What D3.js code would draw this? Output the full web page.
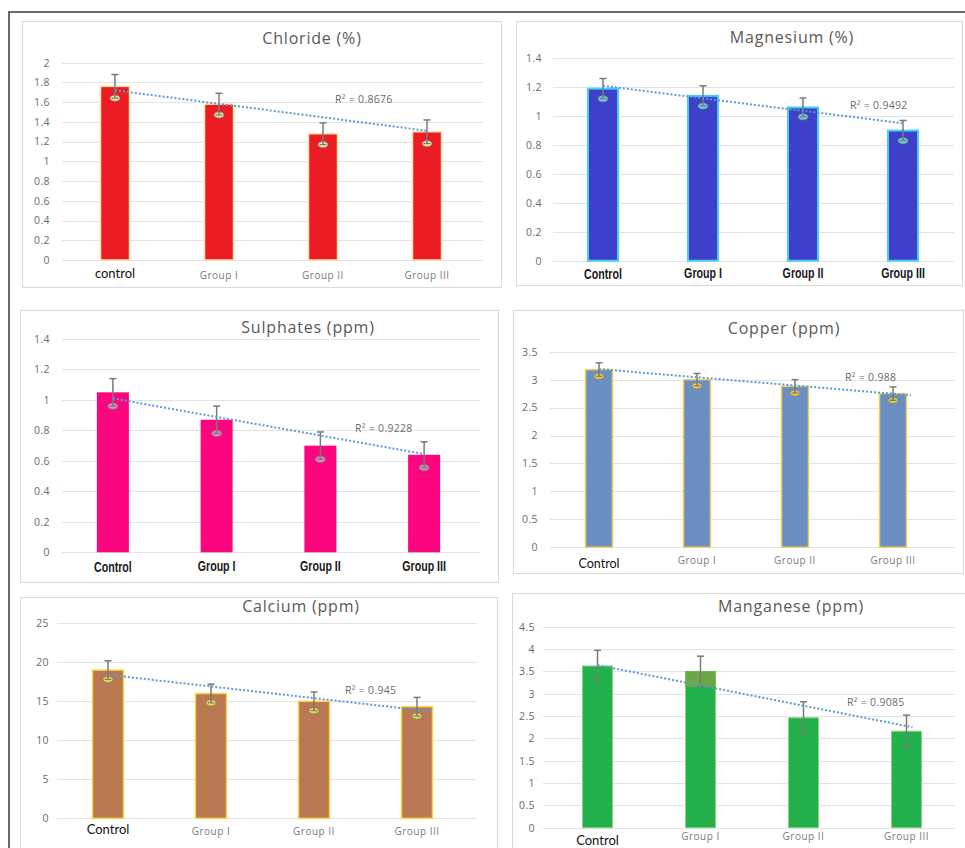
<!DOCTYPE html>
<html>
<head>
<meta charset="utf-8">
<script src="https://cdn.jsdelivr.net/npm/d3@7"></script>
<style>
body { margin: 0; background: #fff; }
svg { display: block; }
</style>
</head>
<body>
<div id="chart"></div>
<script>
// categories
const groups = ["Control", "Group I", "Group II", "Group III"];
const chlorideGroups = ["control", "Group I", "Group II", "Group III"];

// bar heights and error bar half-lengths
const chlorideMeans = [1.76, 1.58, 1.28, 1.30];
const chlorideErr = [0.12, 0.11, 0.11, 0.12];
const magnesiumMeans = [1.19, 1.14, 1.06, 0.90];
const magnesiumErr = [0.07, 0.07, 0.065, 0.07];
const sulphateMeans = [1.05, 0.87, 0.70, 0.64];
const sulphateErr = [0.09, 0.09, 0.09, 0.085];
const copperMeans = [3.18, 3.00, 2.88, 2.75];
const copperErr = [0.12, 0.11, 0.12, 0.12];
const calciumMeans = [19.0, 16.0, 15.0, 14.3];
const calciumErr = [1.2, 1.2, 1.2, 1.2];
const manganeseMeans = [3.62, 3.50, 2.46, 2.16];
const manganeseErr = [0.35, 0.34, 0.36, 0.36];

// trendline value at Control and at Group III
const chlorideTrend = [1.72, 1.31];
const magnesiumTrend = [1.21, 0.95];
const sulphateTrend = [1.01, 0.645];
const copperTrend = [3.19, 2.72];
const calciumTrend = [18.4, 13.7];
const manganeseTrend = [3.64, 2.25];

const titles = ["Chloride (%)", "Magnesium (%)", "Sulphates (ppm)", "Copper (ppm)", "Calcium (ppm)", "Manganese (ppm)"];
const r2Labels = ["R² = 0.8676", "R² = 0.9492", "R² = 0.9228", "R² = 0.988", "R² = 0.945", "R² = 0.9085"];
const yMaxes = [2, 1.4, 1.4, 3.5, 25, 4.5];
const tickSteps = [0.2, 0.2, 0.2, 0.5, 5, 0.5];

const W = 965, H = 848;

const svg = d3.select("#chart")
    .append("svg")
    .attr("width", W)
    .attr("height", H);

// outer frame of the figure
svg.append("path")
    .attr("d", "M9,848 L9,12 L965,12")
    .attr("fill", "none")
    .attr("stroke", "#3a3a3a")
    .attr("stroke-width", 1.5);

BarPanel = function(_svg, _cfg) {
    this.svg = _svg;
    this.cfg = _cfg;
    this.initVis();
};

BarPanel.prototype.initVis = function() {
    var vis = this;
    const c = vis.cfg;

    vis.g = vis.svg.append("g");

    // chart area box
    vis.g.append("rect")
        .attr("x", c.box[0] + 0.5)
        .attr("y", c.box[1] + 0.5)
        .attr("width", c.box[2] - c.box[0])
        .attr("height", c.box[3] - c.box[1])
        .attr("fill", "#fff")
        .attr("stroke", "#d9d9d9");

    vis.x = d3.scaleBand()
        .domain(d3.range(c.means.length))
        .range(c.xRange)
        .padding(0);

    vis.y = d3.scaleLinear()
        .domain([0, c.yMax])
        .range(c.yRange);

    const ticks = d3.range(0, c.yMax + c.step / 2, c.step).map(d => +d.toFixed(2));

    // gridlines
    vis.g.append("g")
        .selectAll("line")
        .data(ticks)
        .enter()
        .append("line")
        .attr("x1", c.gridX[0])
        .attr("x2", c.gridX[1])
        .attr("y1", d => Math.round(vis.y(d)) + 0.5)
        .attr("y2", d => Math.round(vis.y(d)) + 0.5)
        .attr("stroke", "#e3e3e3")
        .attr("stroke-width", 1);

    // y axis labels
    const yAxis = d3.axisLeft(vis.y)
        .tickValues(ticks)
        .tickSize(0)
        .tickPadding(0)
        .tickFormat(d => d3.format("~g")(d));

    vis.g.append("g")
        .attr("transform", `translate(${c.tickX},0)`)
        .call(yAxis)
        .call(g => g.select(".domain").remove())
        .selectAll("text")
        .attr("fill", "#6b6b6b")
        .attr("font-family", "'Open Sans', sans-serif")
        .attr("font-size", "10.5px")
        .attr("letter-spacing", "0.4px");

    const cx = i => vis.x(i) + vis.x.bandwidth() / 2;

    // bars
    vis.g.append("g")
        .selectAll("rect")
        .data(c.means)
        .enter()
        .append("rect")
        .attr("x", (d, i) => cx(i) - c.barW / 2)
        .attr("y", d => vis.y(d))
        .attr("width", c.barW)
        .attr("height", d => vis.y(0) - vis.y(d))
        .attr("fill", c.color)
        .attr("stroke", c.border)
        .attr("stroke-width", c.borderW);

    // darker band on top of a bar (manganese group I)
    if (c.band) {
        vis.g.append("rect")
            .attr("x", cx(c.band[0]) - c.barW / 2)
            .attr("y", vis.y(c.means[c.band[0]]))
            .attr("width", c.barW)
            .attr("height", vis.y(c.band[1]) - vis.y(c.means[c.band[0]]))
            .attr("fill", c.bandColor);
    }

    // error bars
    const err = vis.g.append("g");
    c.means.forEach((m, i) => {
        const top = vis.y(m + c.err[i]);
        const bot = vis.y(m - c.err[i]);
        if (c.markColor !== "none") {
            err.append("ellipse")
                .attr("cx", cx(i))
                .attr("cy", bot)
                .attr("rx", 5)
                .attr("ry", 3)
                .attr("fill", c.markColor)
                .attr("stroke", "#8a8a6a")
                .attr("stroke-width", 0.8);
        }
        err.append("line")
            .attr("x1", cx(i)).attr("x2", cx(i))
            .attr("y1", top).attr("y2", bot)
            .attr("stroke", "#7a7a7a")
            .attr("stroke-width", 1.5);
        err.append("line")
            .attr("x1", cx(i) - 3.5).attr("x2", cx(i) + 3.5)
            .attr("y1", top).attr("y2", top)
            .attr("stroke", "#7a7a7a")
            .attr("stroke-width", 1.5);
        err.append("line")
            .attr("x1", cx(i) - 3.5).attr("x2", cx(i) + 3.5)
            .attr("y1", bot).attr("y2", bot)
            .attr("stroke", "#7a7a7a")
            .attr("stroke-width", 1.2);
    });

    // linear trendline, dotted
    const last = c.means.length - 1;
    vis.g.append("line")
        .attr("x1", cx(0))
        .attr("x2", cx(last) + (c.trendExtra || 0))
        .attr("y1", vis.y(c.trend[0]))
        .attr("y2", vis.y(c.trend[1]))
        .attr("stroke", "#5b9bd5")
        .attr("stroke-width", 2)
        .attr("stroke-dasharray", "2,2");

    vis.g.append("text")
        .attr("x", c.r2Pos[0])
        .attr("y", c.r2Pos[1])
        .attr("fill", "#6b6b6b")
        .attr("font-family", "'Open Sans', sans-serif")
        .attr("font-size", "10.5px")
        .attr("letter-spacing", "0.3px")
        .text(c.r2);

    // title
    vis.g.append("text")
        .attr("x", c.titlePos[0])
        .attr("y", c.titlePos[1])
        .attr("text-anchor", "middle")
        .attr("fill", "#595959")
        .attr("font-family", "'Open Sans', sans-serif")
        .attr("font-size", "16px")
        .attr("letter-spacing", "0.8px")
        .text(c.title);

    // category labels
    vis.g.append("g")
        .selectAll("text")
        .data(c.labels)
        .enter()
        .append("text")
        .attr("text-anchor", "middle")
        .each(function(d, i) {
            const t = d3.select(this);
            const ly = i === 0 ? c.catY[0] : c.catY[1];
            if (c.boldLabels) {
                // condensed bold look
                t.attr("transform", `translate(${cx(i)},${ly}) scale(0.76,1)`)
                    .attr("fill", "#1a1a1a")
                    .attr("font-family", "'Liberation Sans', Arial, sans-serif")
                    .attr("font-weight", "bold")
                    .attr("font-size", "14px");
            } else if (i === 0) {
                t.attr("x", cx(i)).attr("y", ly)
                    .attr("fill", "#111")
                    .attr("font-family", "Lato, 'Open Sans', sans-serif")
                    .attr("font-size", c.firstSize);
            } else {
                t.attr("x", cx(i)).attr("y", ly)
                    .attr("fill", "#7a7a7a")
                    .attr("font-family", "'Open Sans', sans-serif")
                    .attr("font-size", "10px")
                    .attr("letter-spacing", "0.5px");
            }
        })
        .text(d => d);
};

const panels = [
    {
        title: titles[0], labels: chlorideGroups, means: chlorideMeans, err: chlorideErr,
        trend: chlorideTrend, r2: r2Labels[0], yMax: yMaxes[0], step: tickSteps[0],
        box: [22, 21, 501, 287], xRange: [63, 479], gridX: [62, 483], yRange: [260, 62.7],
        tickX: 50, titlePos: [312, 44], catY: [278, 279], firstSize: "13px", r2Pos: [335, 103],
        barW: 29, color: "#ec1c24", border: "#fde2a8", borderW: 1.5, markColor: "#f6e3a3"
    },
    {
        title: titles[1], labels: groups, means: magnesiumMeans, err: magnesiumErr,
        trend: magnesiumTrend, r2: r2Labels[1], yMax: yMaxes[1], step: tickSteps[1],
        box: [516, 21, 962, 285], xRange: [553, 953], gridX: [553, 954], yRange: [260.7, 58.3],
        tickX: 542, titlePos: [792, 43], catY: [279, 278], r2Pos: [850, 109], boldLabels: true,
        barW: 30, color: "#3f40c9", border: "#45cff2", borderW: 2, markColor: "#55d2f0"
    },
    {
        title: titles[2], labels: groups, means: sulphateMeans, err: sulphateErr,
        trend: sulphateTrend, r2: r2Labels[2], yMax: yMaxes[2], step: tickSteps[2],
        box: [20, 310, 498, 582], xRange: [61, 476], gridX: [62, 480], yRange: [552.3, 339],
        tickX: 50, titlePos: [308, 333], catY: [572, 571], r2Pos: [355, 432], boldLabels: true,
        barW: 32, color: "#fb067f", border: "#fb067f", borderW: 0, markColor: "#d98ad0"
    },
    {
        title: titles[3], labels: groups, means: copperMeans, err: copperErr,
        trend: copperTrend, r2: r2Labels[3], yMax: yMaxes[3], step: tickSteps[3],
        box: [513, 310, 963, 573], xRange: [550, 942], gridX: [550, 956], yRange: [547.3, 351.7],
        tickX: 538, titlePos: [784, 334], catY: [568, 564], firstSize: "12.5px", r2Pos: [845, 381],
        barW: 27, color: "#6a8fc0", border: "#f2cd5c", borderW: 1.5, markColor: "#f0c94a", trendExtra: 18
    },
    {
        title: titles[4], labels: groups, means: calciumMeans, err: calciumErr,
        trend: calciumTrend, r2: r2Labels[4], yMax: yMaxes[4], step: tickSteps[4],
        box: [20, 597, 497, 860], xRange: [56.5, 468.5], gridX: [57, 477], yRange: [818.3, 623.3],
        tickX: 49, titlePos: [301, 612], catY: [834, 835], firstSize: "13px", r2Pos: [345, 694],
        barW: 31, color: "#b97852", border: "#f3d54a", borderW: 1.5, markColor: "#efe04a", trendExtra: 14
    },
    {
        title: titles[5], labels: groups, means: manganeseMeans, err: manganeseErr,
        trend: manganeseTrend, r2: r2Labels[5], yMax: yMaxes[5], step: tickSteps[5],
        box: [512, 593, 966, 860], xRange: [546, 958], gridX: [543, 955], yRange: [827.7, 626.7],
        tickX: 535, titlePos: [791, 612], catY: [845, 840], firstSize: "13px", r2Pos: [847, 706],
        barW: 30, color: "#22b14c", border: "#8fcf7a", borderW: 1, markColor: "none",
        band: [1, 3.15], bandColor: "#6aa844", trendExtra: 6
    }
];

panels.forEach(p => new BarPanel(svg, p));
</script>
</body>
</html>
